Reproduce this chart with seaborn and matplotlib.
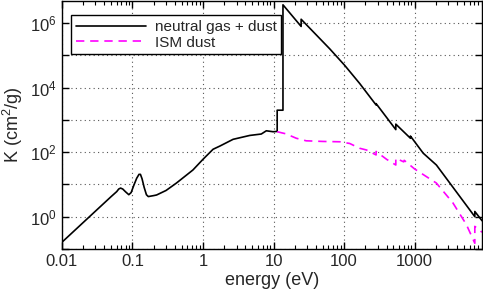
import numpy as np
import pandas as pd
import matplotlib
matplotlib.use("Agg")
import matplotlib.pyplot as plt
import matplotlib.ticker as mticker
import seaborn as sns

# neutral gas + dust (energy in eV, K in cm^2/g)
gas_energy = [0.01, 0.03, 0.05, 0.06, 0.064, 0.068, 0.073, 0.08, 0.089, 0.096,
              0.105, 0.115, 0.124, 0.13, 0.137, 0.147, 0.158, 0.168, 0.2, 0.22,
              0.3, 0.42, 0.72, 1.0, 1.39, 1.74, 2.67, 4.6, 6.7, 7.9, 9.85,
              11.26, 11.26, 13.6, 13.6, 24.6, 24.6, 62.5, 102, 166, 284, 284,
              540, 540, 870, 870, 1320, 2030, 7112, 7112, 9000]
gas_k = [0.16, 1.49, 4.2, 6.0, 7.2, 7.7, 7.2, 5.9, 4.8, 5.6,
         9.5, 15.5, 20.5, 20.5, 15, 8, 4.8, 4.2, 4.5, 4.7,
         6.5, 11, 28, 60, 123, 155, 250, 330, 365, 460, 430,
         440, 2000, 2000, 3.7e6, 7.9e5, 1.32e6, 1.6e5, 4.9e4, 1.35e4, 2.9e3, 3.2e3,
         500, 740, 270, 316, 93, 40, 1.0, 1.45, 0.75]

# ISM dust
dust_energy = [11.26, 15, 21, 29, 50, 87, 120, 166, 207, 284, 284, 400,
               540, 540, 700, 710, 1000, 2030, 3470, 5400, 7112, 7112, 9000]
dust_k = [430, 370, 270, 225, 215, 210, 186, 132, 117, 82, 105, 60,
          40, 65, 50, 56, 30, 11, 2.7, 0.57, 0.15, 0.5, 0.33]

x_ticks = [0.01, 0.1, 1, 10, 100, 1000]
x_labels = ["0.01", "0.1", "1", "10", "100", "1000"]

gas = pd.DataFrame({"energy": gas_energy, "K": gas_k})
dust = pd.DataFrame({"energy": dust_energy, "K": dust_k})

sns.set_style("ticks")
plt.rcParams['font.family'] = ['Liberation Sans', 'DejaVu Sans']
plt.rcParams['mathtext.default'] = 'regular'

fig, ax = plt.subplots(figsize=(4.83, 2.96), dpi=100)
fig.subplots_adjust(left=0.128, right=0.998, bottom=0.159, top=0.998)

sns.lineplot(data=gas, x="energy", y="K", sort=False, estimator=None,
             color="black", linewidth=1.2, label="neutral gas + dust", ax=ax)
sns.lineplot(data=dust, x="energy", y="K", sort=False, estimator=None,
             color="magenta", linewidth=1.2, linestyle=(0, (5, 3.5)),
             label="ISM dust", ax=ax)

ax.set_xscale("log")
ax.set_yscale("log")
ax.set_xlim(0.01, 9000)
ax.set_ylim(0.1, 5e6)

ax.xaxis.set_major_locator(mticker.FixedLocator(x_ticks))
ax.xaxis.set_major_formatter(mticker.FixedFormatter(x_labels))
ax.xaxis.set_minor_locator(mticker.LogLocator(base=10, subs=np.arange(2, 10), numticks=20))
ax.xaxis.set_minor_formatter(mticker.NullFormatter())

ax.yaxis.set_major_locator(mticker.LogLocator(base=10, numticks=20))
ax.yaxis.set_minor_locator(mticker.NullLocator())
def ylab(v, pos):
    e = int(round(np.log10(v)))
    return f"$10^{{{e}}}$" if e % 2 == 0 else ""
ax.yaxis.set_major_formatter(mticker.FuncFormatter(ylab))

ax.tick_params(which="both", direction="in", top=True, right=True,
               labelsize=12, color="black")
ax.tick_params(which="major", length=5, width=1)
ax.tick_params(which="minor", length=3, width=0.8)
for s in ax.spines.values():
    s.set_color("black")
    s.set_linewidth(1)

ax.grid(True, which="major", color="#555555", linestyle=(0, (1, 3)), linewidth=0.8)

ax.set_xlabel("energy (eV)", fontsize=13, labelpad=2)
ax.set_ylabel("K (cm$^2$/g)", fontsize=13, labelpad=4)

leg = ax.legend(loc="upper left", bbox_to_anchor=(0.023, 0.94), borderaxespad=0,
                fancybox=False, framealpha=1, edgecolor="black", fontsize=11,
                handlelength=4.6, handletextpad=0.55, labelspacing=0.1,
                borderpad=0.3)
leg.get_frame().set_linewidth(1)

fig.savefig("out.png", dpi=100)
